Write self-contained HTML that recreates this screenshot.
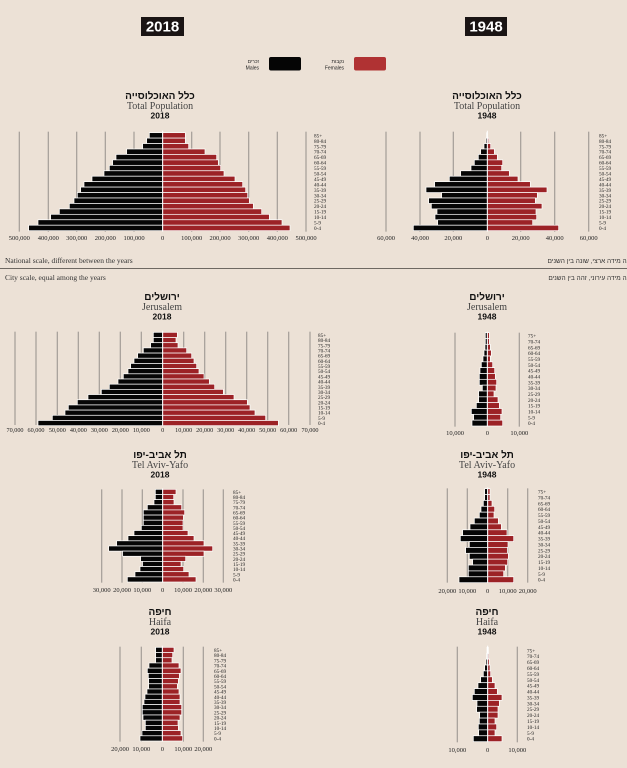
<!DOCTYPE html>
<html><head><meta charset="utf-8">
<style>
html,body{margin:0;padding:0;background:#ece1d6;}
#w{position:relative;width:627px;height:768px;overflow:hidden;background:#ece1d6;}
svg{position:absolute;left:0;top:0;}
.heb{font-family:"Liberation Sans","Noto Sans CJK JP",sans-serif;}
</style></head><body>
<div id="w">
<svg id="s" width="627" height="768" viewBox="0 0 627 768" xmlns="http://www.w3.org/2000/svg">
<rect x="141" y="17" width="43" height="19" fill="#1a1414"/>
<text x="162.5" y="31.5" text-anchor="middle" font-family="Liberation Sans, sans-serif" font-weight="bold" font-size="15" fill="#fff">2018</text>
<rect x="465" y="17" width="42" height="19" fill="#1a1414"/>
<text x="486" y="31.5" text-anchor="middle" font-family="Liberation Sans, sans-serif" font-weight="bold" font-size="15" fill="#fff">1948</text>
<text x="259" y="63" text-anchor="end" font-family="Liberation Sans, Noto Sans CJK JP, sans-serif" font-size="5" fill="#222">זכרים</text>
<text x="259" y="69.5" text-anchor="end" font-family="Liberation Sans, sans-serif" font-size="5" fill="#222">Males</text>
<rect x="269" y="57" width="32" height="13.5" rx="2" fill="#050505"/>
<text x="344" y="63" text-anchor="end" font-family="Liberation Sans, Noto Sans CJK JP, sans-serif" font-size="5" fill="#222">נקבות</text>
<text x="344" y="69.5" text-anchor="end" font-family="Liberation Sans, sans-serif" font-size="5" fill="#222">Females</text>
<rect x="354" y="57" width="32" height="13.5" rx="2" fill="#b03233"/>
<line x1="0" y1="268.5" x2="627" y2="268.5" stroke="#6e6862" stroke-width="1"/>
<text x="5" y="263" font-family="Liberation Serif, serif" font-size="7.5" fill="#333">National scale, different between the years</text>
<text x="5" y="280" font-family="Liberation Serif, serif" font-size="7.5" fill="#333">City scale, equal among the years</text>
<text x="633" y="263" text-anchor="end" font-family="Liberation Sans, Noto Sans CJK JP, sans-serif" font-size="6.5" fill="#333">קנה מידה ארצי, שונה בין השנים</text>
<text x="633" y="280" text-anchor="end" font-family="Liberation Sans, Noto Sans CJK JP, sans-serif" font-size="6.5" fill="#333">קנה מידה עירוני, זהה בין השנים</text>
</svg>
</div>
<script>
var NS="http://www.w3.org/2000/svg",S=document.getElementById("s");
function el(t,a,txt){var e=document.createElementNS(NS,t);for(var k in a)e.setAttribute(k,a[k]);if(txt!=null)e.textContent=txt;S.appendChild(e);return e;}
var A18=["85+","80-84","75-79","70-74","65-69","60-64","55-59","50-54","45-49","40-44","35-39","30-34","25-29","20-24","15-19","10-14","5-9","0-4"];
var A48=["75+","70-74","65-69","60-64","55-59","50-54","45-49","40-44","35-39","30-34","25-29","20-24","15-19","10-14","5-9","0-4"];
function chart(o){
 var X=function(v){return o.ox+v/3},Y=function(v){return o.oy+v/3};
 o.grid.forEach(function(g){el("line",{x1:X(g),y1:Y(o.gt),x2:X(g),y2:Y(o.gb),stroke:"#a8a29c","stroke-width":1.3});});
 var n=o.ml.length,p=(o.bb-o.bt)/n/3,y0=Y(o.bt),cx=X(o.c);
 for(var i=0;i<n;i++){var y=y0+i*p;
  el("rect",{x:X(o.ml[i]),y:y,width:cx-X(o.ml[i]),height:p,fill:"#050505",stroke:"#fff","stroke-width":0.7});
  el("rect",{x:cx,y:y,width:X(o.fr[i])-cx,height:p,fill:"#9c2226",stroke:"#fff","stroke-width":0.7});
  el("text",{x:o.ax,y:y+p/2+2,"font-family":"Liberation Serif, serif","font-size":5.2,fill:"#222"},o.ages[i]);
 }
 el("line",{x1:cx,y1:Y(o.gt)-1,x2:cx,y2:Y(o.gb),stroke:"#fff","stroke-width":1});
 o.ticks.forEach(function(t){el("text",{x:X(t[0]),y:o.ty,"text-anchor":"middle","font-family":"Liberation Serif, serif","font-size":o.tf||6.5,fill:"#222"},t[1]);});
 el("text",{x:o.tx,y:o.hy,"text-anchor":"middle","font-family":"Liberation Sans, Noto Sans CJK JP, sans-serif","font-weight":"bold","font-size":10,fill:"#111"},o.he);
 el("text",{x:o.tx,y:o.hy+10,"text-anchor":"middle","font-family":"Liberation Serif, serif","font-size":10,fill:"#444"},o.en);
 el("text",{x:o.tx,y:o.hy+19.5,"text-anchor":"middle","font-family":"Liberation Sans, sans-serif","font-weight":"bold","font-size":8.5,fill:"#111"},o.yr);
}
var HTOT="כלל האוכלוסייה",HJ="ירושלים",HT="תל אביב-יפו",HH="חיפה";
chart({ox:0,oy:80,c:488,grid:[58,145,230,316,402,575,660,746,832,918],gt:155,gb:455,bt:158,bb:452,
 ml:[448,440,428,380,348,338,328,312,276,252,242,232,222,208,178,152,114,86],
 fr:[556,556,566,615,650,655,662,672,705,728,737,743,748,760,785,808,846,870],
 ax:314,ages:A18,ty:240,ticks:[[58,"500,000"],[145,"400,000"],[230,"300,000"],[316,"200,000"],[402,"100,000"],[488,"0"],[575,"100,000"],[660,"200,000"],[746,"300,000"],[832,"400,000"],[918,"500,000"]],
 tx:160,hy:99,he:HTOT,en:"Total Population",yr:"2018"});
chart({ox:360,oy:80,c:382,grid:[78,180,280,482,584,686],gt:155,gb:455,bt:158,bb:452,
 ml:[380,378,372,362,355,343,333,302,268,224,198,245,206,214,231,225,233,160],
 fr:[382,386,392,403,412,428,425,448,474,511,561,532,526,546,528,530,518,596],
 ax:599,ages:A18,ty:240,ticks:[[78,"60,000"],[180,"40,000"],[280,"20,000"],[382,"0"],[482,"20,000"],[584,"40,000"],[686,"60,000"]],
 tx:487,hy:99,he:HTOT,en:"Total Population",yr:"1948"});
chart({ox:0,oy:290,c:488,grid:[45,108,172,235,298,361,424,551,614,677,740,803,866,930],gt:125,gb:405,bt:127,bb:407,
 ml:[460,460,452,430,413,402,392,384,370,354,328,304,264,232,205,195,157,114],
 fr:[532,528,534,560,575,582,590,597,612,628,644,670,702,742,750,765,797,835],
 ax:318,ages:A18,ty:432,tf:6.2,ticks:[[45,"70,000"],[108,"60,000"],[172,"50,000"],[235,"40,000"],[298,"30,000"],[361,"20,000"],[424,"10,000"],[488,"0"],[551,"10,000"],[614,"20,000"],[677,"30,000"],[740,"40,000"],[803,"50,000"],[866,"60,000"],[930,"70,000"]],
 tx:162,hy:300,he:HJ,en:"Jerusalem",yr:"2018"});
chart({ox:400,oy:290,c:262,grid:[165,358],gt:128,gb:410,bt:128,bb:408,
 ml:[256,256,255,252,249,244,240,238,238,247,236,236,229,214,221,216],
 fr:[268,268,271,274,271,278,284,286,290,288,282,294,298,306,302,308],
 ax:528,ages:A48,ty:435,ticks:[[165,"10,000"],[262,"0"],[358,"10,000"]],
 tx:487,hy:300,he:HJ,en:"Jerusalem",yr:"1948"});
chart({ox:60,oy:450,c:308,grid:[125,186,247,369,430,490],gt:118,gb:398,bt:118,bb:396,
 ml:[286,286,282,262,250,250,250,244,222,204,170,146,188,242,248,240,225,202],
 fr:[348,341,342,365,374,370,369,369,384,402,432,458,432,377,363,371,387,408],
 ax:233,ages:A18,ty:592,ticks:[[125,"30,000"],[186,"20,000"],[247,"10,000"],[308,"0"],[369,"10,000"],[430,"20,000"],[490,"30,000"]],
 tx:160,hy:458,he:HT,en:"Tel Aviv-Yafo",yr:"2018"});
chart({ox:420,oy:450,c:203,grid:[82,142,263,323],gt:115,gb:398,bt:116,bb:398,
 ml:[194,194,190,183,178,163,150,128,121,148,137,148,158,145,145,117],
 fr:[210,210,216,224,222,235,244,261,281,264,262,265,263,256,251,281],
 ax:538,ages:A48,ty:593,ticks:[[82,"20,000"],[142,"10,000"],[203,"0"],[263,"10,000"],[323,"20,000"]],
 tx:487,hy:458,he:HT,en:"Tel Aviv-Yafo",yr:"1948"});
chart({ox:80,oy:605,c:247,grid:[120,184,310,370],gt:125,gb:410,bt:127,bb:408,
 ml:[227,227,227,207,202,205,206,206,201,195,192,187,187,189,196,196,186,180],
 fr:[282,278,276,297,303,298,295,292,297,300,300,305,305,300,294,295,303,308],
 ax:214,ages:A18,ty:751,ticks:[[120,"20,000"],[184,"10,000"],[247,"0"],[310,"10,000"],[370,"20,000"]],
 tx:160,hy:615,he:HH,en:"Haifa",yr:"2018"});
chart({ox:420,oy:605,c:203,grid:[112,292],gt:125,gb:412,bt:127,bb:410,
 ml:[201,200,198,194,190,182,174,163,157,171,170,179,178,175,176,160],
 fr:[205,206,208,210,212,217,225,232,246,238,234,234,225,230,225,246],
 ax:527,ages:A48,ty:752,ticks:[[112,"10,000"],[203,"0"],[292,"10,000"]],
 tx:487,hy:615,he:HH,en:"Haifa",yr:"1948"});
</script>
</body></html>
